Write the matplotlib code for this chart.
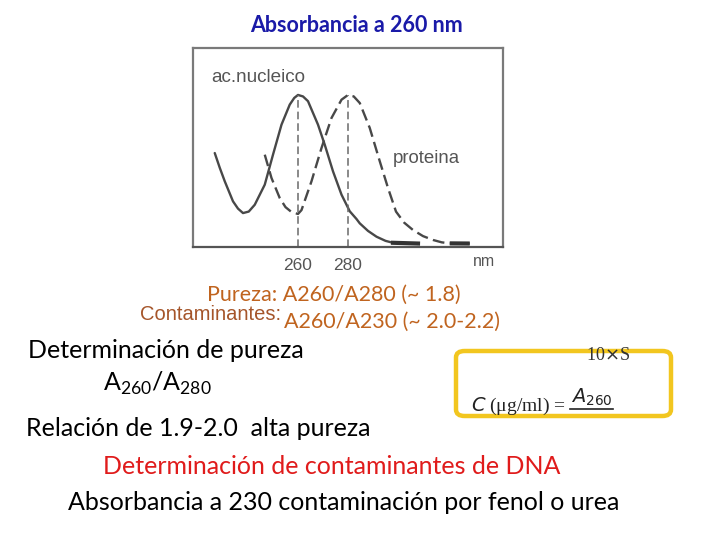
import matplotlib
matplotlib.use("Agg")
import matplotlib.pyplot as plt
from matplotlib.patches import FancyBboxPatch
from matplotlib.lines import Line2D

# ---- data (wavelength nm, relative absorbance) ----
nucleic_nm = [226.7, 228.7, 230.7, 234.0, 236.0, 238.0, 240.3, 242.7, 246.7, 250.0, 253.4,
              256.7, 258.5, 260.0, 262.0, 264.0, 268.0, 270.7, 274.0, 277.4, 280.7, 283.4,
              284.7, 288.0, 291.4, 295.0, 298.0, 308.0]
nucleic_abs = [0.609, 0.51, 0.419, 0.284, 0.235, 0.205, 0.215, 0.261, 0.396, 0.598, 0.80,
               0.935, 0.98, 1.0, 0.99, 0.958, 0.80, 0.665, 0.486, 0.329, 0.217, 0.165,
               0.136, 0.085, 0.046, 0.018, 0.005, 0.0]
protein_nm = [246.7, 249.4, 252.7, 255.0, 257.4, 260.0, 261.4, 265.4, 269.4, 273.4, 277.4,
              280.0, 282.3, 284.7, 288.7, 292.7, 296.0, 299.2, 302.5, 306.0, 310.0, 314.0,
              317.5, 320.7, 328.7]
protein_abs = [0.598, 0.441, 0.306, 0.245, 0.212, 0.199, 0.225, 0.419, 0.643, 0.845, 0.968,
               1.0, 0.99, 0.946, 0.778, 0.554, 0.374, 0.215, 0.14, 0.091, 0.05, 0.024,
               0.008, 0.001, 0.0]
peak_nm = [260, 280]
tick_labels = ["260", "280"]
series_names = ["ac.nucleico", "proteina"]

W, H = 720, 540
fig = plt.figure(figsize=(7.2, 5.4), dpi=100)
fig.patch.set_facecolor("white")

def fx(px):
    return px / W

def fy(py):
    return 1 - py / H

SLIDE = ["Lato", "DejaVu Sans"]
GRAPH = ["Liberation Sans", "DejaVu Sans"]
SERIF = ["Liberation Serif", "DejaVu Serif"]
gray = "#484848"

# ---- graph ----
X0, X1 = 218, 342
Y0, Y1 = -0.02, 1.316
ax = fig.add_axes([fx(193), fy(246.5), fx(503) - fx(193), fy(48) - fy(246.5)])
ax.set_xlim(X0, X1)
ax.set_ylim(Y0, Y1)
for s in ax.spines.values():
    s.set_color("#7a7a7a")
    s.set_linewidth(1.6)
ax.spines["bottom"].set_color("#555555")
ax.set_xticks([])
ax.set_yticks([])

ax.plot(nucleic_nm, nucleic_abs, color=gray, lw=1.7, solid_joinstyle="round",
        solid_capstyle="round")
ax.plot(protein_nm, protein_abs, color=gray, lw=1.7, dashes=(5, 2.3),
        dash_joinstyle="round")
ax.plot(nucleic_nm[-2:], nucleic_abs[-2:], color="#333333", lw=3)
ax.plot(protein_nm[-2:], protein_abs[-2:], color="#333333", lw=3, dashes=(5, 2.3))
for p in peak_nm:
    ax.plot([p, p], [Y0, 1.0], color="#6a6a6a", lw=1.1, dashes=(5, 2.6))

ax.text(225.5, 1.115, series_names[0], fontsize=13.6, color="#555555", family=GRAPH,
        va="center", ha="left")
ax.text(298, 0.575, series_names[1], fontsize=13.4, color="#555555", family=GRAPH,
        va="center", ha="left")

for p, lab in zip(peak_nm, tick_labels):
    fig.text(fx(193) + (p - X0) / (X1 - X0) * (fx(503) - fx(193)), fy(265), lab,
             fontsize=12.5, color="#555555", family=GRAPH, ha="center", va="center")
fig.text(fx(484), fy(262), "nm", fontsize=11.5, color="#555555", family=GRAPH,
         ha="center", va="center")

# ---- slide text ----
fig.text(fx(356), fy(25), "Absorbancia a 260 nm", fontsize=15.5, fontweight="bold",
         color="#1a1aa8", family=SLIDE, ha="center", va="center")

orange = "#c0641f"
fig.text(fx(461), fy(295), "Pureza: A260/A280 (~ 1.8)", fontsize=15.5, color=orange,
         family=SLIDE, ha="right", va="center")
fig.text(fx(281), fy(314), "Contaminantes:", fontsize=14.5, color="#a5552a",
         family=GRAPH, ha="right", va="center")
fig.text(fx(284), fy(322), "A260/A230 (~ 2.0-2.2)", fontsize=15.5, color=orange,
         family=SLIDE, ha="left", va="center")

fig.text(fx(28), fy(350), "Determinación de pureza", fontsize=18, color="black",
         family=SLIDE, ha="left", va="center")
fig.text(fx(103), fy(383), r"A$_{\mathregular{260}}$/A$_{\mathregular{280}}$", fontsize=18,
         color="black", family=SLIDE, ha="left", va="center")
fig.text(fx(26), fy(429), "Relación de 1.9-2.0  alta pureza", fontsize=18, color="black",
         family=SLIDE, ha="left", va="center")
fig.text(fx(332), fy(467), "Determinación de contaminantes de DNA", fontsize=18,
         color="#e01b1b", family=SLIDE, ha="center", va="center")
fig.text(fx(344), fy(502), "Absorbancia a 230 contaminación por fenol o urea", fontsize=18,
         color="black", family=SLIDE, ha="center", va="center")

# ---- yellow box with formula ----
box = FancyBboxPatch((fx(456), fy(416)), fx(671) - fx(456), fy(351) - fy(416),
                     boxstyle="round,pad=0,rounding_size=0.012", transform=fig.transFigure,
                     facecolor="white", edgecolor="#f2c61f", lw=3.2)
fig.patches.append(box)
fig.text(fx(608), fy(356), r"10$\times$S", fontsize=13, color="#333333",
         family=SERIF, ha="center", va="center")
fig.text(fx(471), fy(406), r"$C$ (μg/ml) =", fontsize=14, color="#222222",
         family=SERIF, ha="left", va="center")
fig.text(fx(592), fy(397), r"$A_{260}$", fontsize=14, color="#222222",
         family=SERIF, ha="center", va="center")
fig.add_artist(Line2D([fx(570), fx(613)], [fy(409), fy(409)], transform=fig.transFigure,
                      color="#222222", lw=1.2))

fig.savefig("out.png", dpi=100)
